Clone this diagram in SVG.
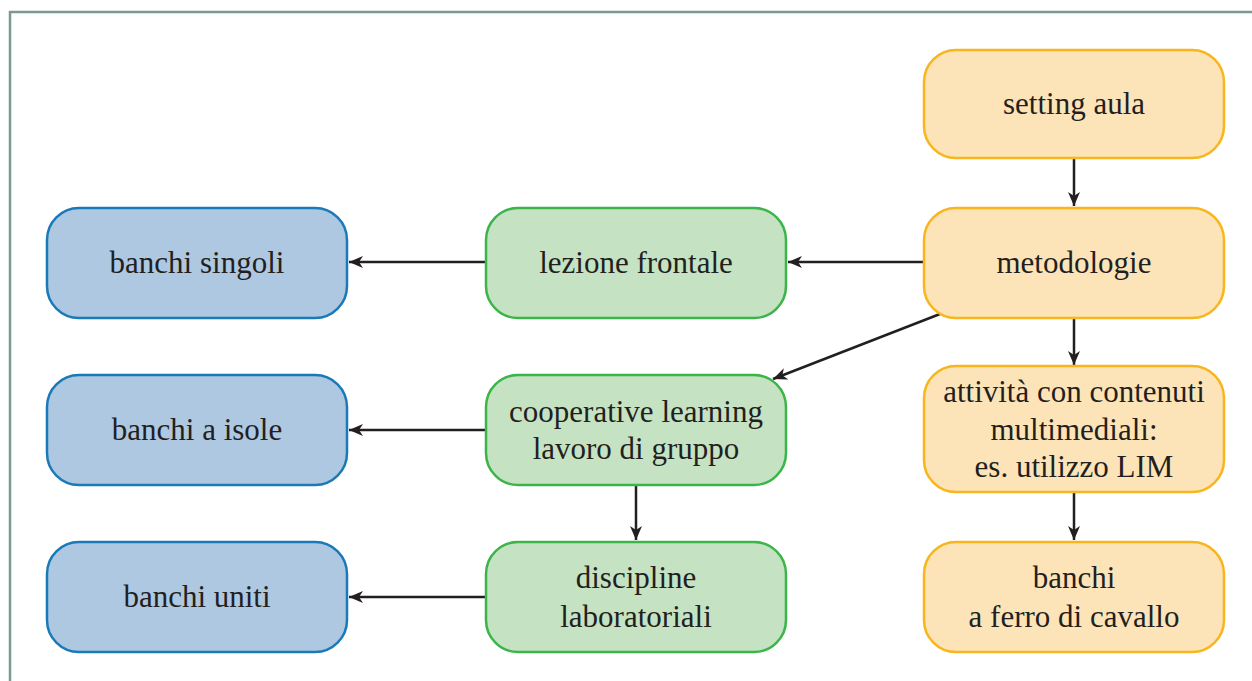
<svg xmlns="http://www.w3.org/2000/svg" width="1252" height="681" viewBox="0 0 1252 681">
<style>
text{font-size:31px;fill:#231f20;text-anchor:middle}
.b{fill:#aec8e2;stroke:#1a7ab8;stroke-width:2.5}
.g{fill:#c5e3c2;stroke:#3bb44a;stroke-width:2.5}
.o{fill:#fde4b8;stroke:#f8b51c;stroke-width:2.5}
.c{stroke:#231f20;stroke-width:2.5;fill:none;marker-end:url(#ah)}
</style>
<defs>
<marker id="ah" markerWidth="16" markerHeight="12" refX="14" refY="6" orient="auto" markerUnits="userSpaceOnUse">
<path d="M0,0 L14,6 L0,12 L4,6 Z" fill="#231f20"/>
</marker>
</defs>
<rect width="1252" height="681" fill="#fff"/>
<path d="M10,681 V12 H1252" fill="none" stroke="#7a9a8c" stroke-width="2.5"/>
<g id="connectors">
<line class="c" x1="1074" y1="159" x2="1074" y2="206"/>
<line class="c" x1="923" y1="262" x2="788" y2="262"/>
<line class="c" x1="940" y1="314" x2="773" y2="379"/>
<line class="c" x1="1074" y1="318" x2="1074" y2="365"/>
<line class="c" x1="1074" y1="492" x2="1074" y2="540"/>
<line class="c" x1="486" y1="262" x2="349" y2="262"/>
<line class="c" x1="486" y1="430" x2="349" y2="430"/>
<line class="c" x1="636" y1="485" x2="636" y2="540"/>
<line class="c" x1="486" y1="597" x2="349" y2="597"/>
</g>
<g font-family="Liberation Serif, Times New Roman, serif">
<g id="setting-aula"><rect class="o" x="924" y="50" width="300" height="108" rx="32"/><text x="1074" y="114">setting aula</text></g>
<g id="metodologie"><rect class="o" x="924" y="208" width="300" height="110" rx="32"/><text x="1074" y="273">metodologie</text></g>
<g id="attivita"><rect class="o" x="924" y="366" width="300" height="126" rx="32"/><text x="1074" y="402">attività con contenuti</text><text x="1074" y="440">multimediali:</text><text x="1074" y="477">es. utilizzo LIM</text></g>
<g id="banchi-ferro"><rect class="o" x="924" y="542" width="300" height="110" rx="32"/><text x="1074" y="588">banchi</text><text x="1074" y="627">a ferro di cavallo</text></g>
<g id="lezione-frontale"><rect class="g" x="486" y="208" width="300" height="110" rx="32"/><text x="636" y="273">lezione frontale</text></g>
<g id="cooperative"><rect class="g" x="486" y="375" width="300" height="110" rx="32"/><text x="636" y="422">cooperative learning</text><text x="636" y="459">lavoro di gruppo</text></g>
<g id="discipline"><rect class="g" x="486" y="542" width="300" height="110" rx="32"/><text x="636" y="588">discipline</text><text x="636" y="627">laboratoriali</text></g>
<g id="banchi-singoli"><rect class="b" x="47" y="208" width="300" height="110" rx="32"/><text x="197" y="273">banchi singoli</text></g>
<g id="banchi-isole"><rect class="b" x="47" y="375" width="300" height="110" rx="32"/><text x="197" y="440">banchi a isole</text></g>
<g id="banchi-uniti"><rect class="b" x="47" y="542" width="300" height="110" rx="32"/><text x="197" y="607">banchi uniti</text></g>
</g>
</svg>
